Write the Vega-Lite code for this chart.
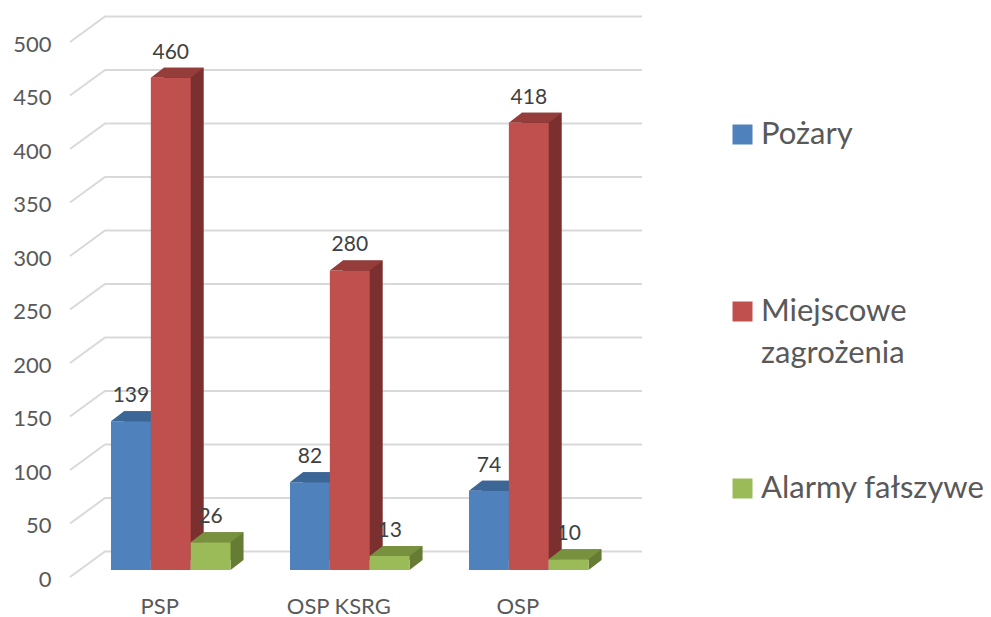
{
  "$schema": "https://vega.github.io/schema/vega-lite/v6.json",
  "width": 535,
  "height": 535,
  "autosize": {"type": "none"},
  "padding": {"left": 70, "top": 35, "right": 386, "bottom": 47},
  "background": "white",
  "config": {
    "view": {"stroke": null},
    "font": "Lato",
    "style": {"guide-label": {"lineHeight": 42}},
    "axisY": {"domain": false, "ticks": false, "tickSize": 0, "grid": false, "labelPadding": 19, "labelOffset": 9, "labelFontSize": 22, "labelColor": "#595959", "labelFont": "Lato"},
    "axisX": {"domain": false, "ticks": false, "tickSize": 0, "grid": false, "labelPadding": 26, "labelOffset": -11, "labelFontSize": 22, "labelColor": "#595959", "labelAngle": 0, "labelFont": "Lato"}
  },
  "datasets": {
    "bars": [
      {"cat": "PSP", "series": "Pożary", "value": 139},
      {"cat": "PSP", "series": "Miejscowe zagrożenia", "value": 460},
      {"cat": "PSP", "series": "Alarmy fałszywe", "value": 26},
      {"cat": "OSP KSRG", "series": "Pożary", "value": 82},
      {"cat": "OSP KSRG", "series": "Miejscowe zagrożenia", "value": 280},
      {"cat": "OSP KSRG", "series": "Alarmy fałszywe", "value": 13},
      {"cat": "OSP", "series": "Pożary", "value": 74},
      {"cat": "OSP", "series": "Miejscowe zagrożenia", "value": 418},
      {"cat": "OSP", "series": "Alarmy fałszywe", "value": 10}
    ],
    "ticks": [
      {"t": 0}, {"t": 50}, {"t": 100}, {"t": 150}, {"t": 200}, {"t": 250},
      {"t": 300}, {"t": 350}, {"t": 400}, {"t": 450}, {"t": 500}
    ]
  },
  "data": {"name": "bars"},
  "layer": [
    {
      "data": {"name": "ticks"},
      "mark": {"type": "point", "shape": "M-2.675,0.07L-2.325,-0.185L3.045,-0.185", "size": 40000, "filled": false, "stroke": "#D9D9D9", "strokeWidth": 2, "opacity": 1, "fill": null},
      "encoding": {
        "y": {"field": "t", "type": "quantitative", "title": null, "scale": {"domain": [0, 500], "nice": false, "zero": true}}
      }
    },
    {
      "transform": [{"filter": "datum.series == 'Pożary'"}],
      "layer": [
        {"mark": {"type": "bar", "color": "#375F8C", "yOffset": -10, "y2Offset": -10},
         "encoding": {"x": {"field": "cat", "type": "nominal", "bandPosition": 0.1087, "title": null}, "x2": {"field": "cat", "bandPosition": 0.442}, "y": {"field": "value", "type": "quantitative", "title": null}, "y2": {"datum": 0}}},
        {"mark": {"type": "point", "shape": "M0,0L0,-0.25L0.325,-0.25Z", "size": 6400, "filled": true, "color": "#375F8C", "opacity": 1, "strokeWidth": 0},
         "encoding": {"x": {"field": "cat", "type": "nominal", "bandPosition": 0.33333, "title": null}, "y": {"datum": 0, "type": "quantitative"}}},
        {"mark": {"type": "bar"},
         "encoding": {"x": {"field": "cat", "type": "nominal", "bandPosition": 0, "title": null, "scale": {"domain": ["PSP", "OSP KSRG", "OSP"], "paddingInner": 0.332, "paddingOuter": 0.1603, "align": 0.714}}, "x2": {"field": "cat", "bandPosition": 0.33333}, "y": {"field": "value", "type": "quantitative", "title": null}, "y2": {"datum": 0},
           "color": {"field": "series", "type": "nominal", "scale": {"domain": ["Pożary", "Miejscowe zagrożenia", "Alarmy fałszywe"], "range": ["#4F81BD", "#C0504D", "#9BBB59"]},
             "legend": {"title": null, "orient": "none", "legendX": 657, "legendY": 84, "symbolType": "square", "symbolSize": 400, "symbolStrokeWidth": 0, "labelFontSize": 31, "labelColor": "#595959", "labelFont": "Lato", "labelOffset": 3, "labelLimit": 400, "gridAlign": "all", "rowPadding": 103,
               "labelExpr": "datum.label == 'Miejscowe zagrożenia' ? ['Miejscowe', 'zagrożenia'] : datum.label"}}}},
        {"mark": {"type": "point", "shape": "M-0.5,0L0.5,0L0.825,-0.25L-0.175,-0.25Z", "size": 6400, "filled": true, "color": "#3C6696", "opacity": 1, "strokeWidth": 0},
         "encoding": {"x": {"field": "cat", "type": "nominal", "bandPosition": 0.16667, "title": null}, "y": {"field": "value", "type": "quantitative", "title": null}}}
      ]
    },
    {
      "transform": [{"filter": "datum.series == 'Miejscowe zagrożenia'"}],
      "layer": [
        {"mark": {"type": "bar", "color": "#7B2F2E", "yOffset": -10, "y2Offset": -10},
         "encoding": {"x": {"field": "cat", "type": "nominal", "bandPosition": 0.442, "title": null}, "x2": {"field": "cat", "bandPosition": 0.7754}, "y": {"field": "value", "type": "quantitative", "title": null}, "y2": {"datum": 0}}},
        {"mark": {"type": "point", "shape": "M0,0L0,-0.25L0.325,-0.25Z", "size": 6400, "filled": true, "color": "#7B2F2E", "opacity": 1, "strokeWidth": 0},
         "encoding": {"x": {"field": "cat", "type": "nominal", "bandPosition": 0.66667, "title": null}, "y": {"datum": 0, "type": "quantitative"}}},
        {"mark": {"type": "bar"},
         "encoding": {"x": {"field": "cat", "type": "nominal", "bandPosition": 0.33333, "title": null}, "x2": {"field": "cat", "bandPosition": 0.66667}, "y": {"field": "value", "type": "quantitative", "title": null}, "y2": {"datum": 0},
           "color": {"field": "series", "type": "nominal"}}},
        {"mark": {"type": "point", "shape": "M-0.5,0L0.5,0L0.825,-0.25L-0.175,-0.25Z", "size": 6400, "filled": true, "color": "#943D3B", "opacity": 1, "strokeWidth": 0},
         "encoding": {"x": {"field": "cat", "type": "nominal", "bandPosition": 0.5, "title": null}, "y": {"field": "value", "type": "quantitative", "title": null}}}
      ]
    },
    {
      "transform": [{"filter": "datum.series == 'Alarmy fałszywe'"}],
      "layer": [
        {"mark": {"type": "bar", "color": "#667C35", "yOffset": -10, "y2Offset": -10},
         "encoding": {"x": {"field": "cat", "type": "nominal", "bandPosition": 0.7754, "title": null}, "x2": {"field": "cat", "bandPosition": 1.1087}, "y": {"field": "value", "type": "quantitative", "title": null}, "y2": {"datum": 0}}},
        {"mark": {"type": "point", "shape": "M0,0L0,-0.25L0.325,-0.25Z", "size": 6400, "filled": true, "color": "#667C35", "opacity": 1, "strokeWidth": 0},
         "encoding": {"x": {"field": "cat", "type": "nominal", "bandPosition": 1, "title": null}, "y": {"datum": 0, "type": "quantitative"}}},
        {"mark": {"type": "bar"},
         "encoding": {"x": {"field": "cat", "type": "nominal", "bandPosition": 0.66667, "title": null}, "x2": {"field": "cat", "bandPosition": 1}, "y": {"field": "value", "type": "quantitative", "title": null}, "y2": {"datum": 0},
           "color": {"field": "series", "type": "nominal"}}},
        {"mark": {"type": "point", "shape": "M-0.5,0L0.5,0L0.825,-0.25L-0.175,-0.25Z", "size": 6400, "filled": true, "color": "#77913F", "opacity": 1, "strokeWidth": 0},
         "encoding": {"x": {"field": "cat", "type": "nominal", "bandPosition": 0.83333, "title": null}, "y": {"field": "value", "type": "quantitative", "title": null}}}
      ]
    },
    {
      "mark": {"type": "text", "dy": -19, "baseline": "alphabetic", "fontSize": 21, "color": "#404040", "font": "Lato"},
      "encoding": {
        "x": {"field": "cat", "type": "nominal", "title": null},
        "xOffset": {"field": "series", "type": "nominal", "scale": {"type": "band", "domain": ["Pożary", "Miejscowe zagrożenia", "Alarmy fałszywe"], "paddingInner": 0, "paddingOuter": 0}},
        "y": {"field": "value", "type": "quantitative", "title": null},
        "text": {"field": "value", "type": "quantitative"}
      }
    }
  ]
}
